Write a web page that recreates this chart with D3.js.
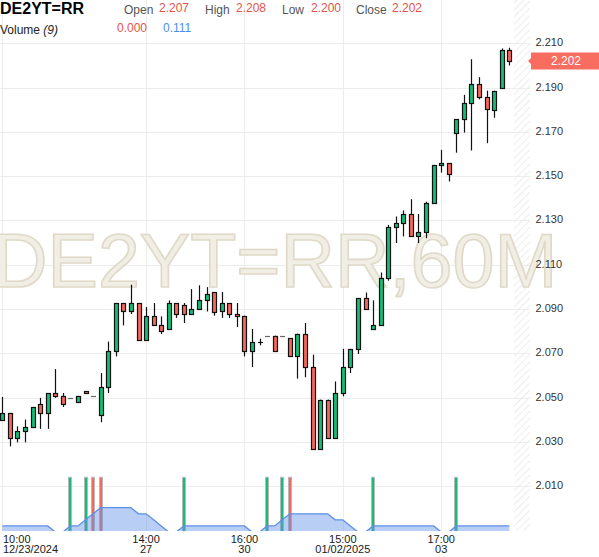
<!DOCTYPE html>
<html>
<head>
<meta charset="utf-8">
<script src="https://cdn.jsdelivr.net/npm/d3@7"></script>
<style>
  html, body { margin: 0; padding: 0; background: #fff; }
  svg { display: block; font-family: "Liberation Sans", Arial, sans-serif; }
</style>
</head>
<body>
<svg id="chart" width="599" height="557"></svg>
<script>
// ---------- data ----------
const openVals  = [2.0401,2.0431,2.0318,2.0348,2.0369,2.0472,2.0431,2.0521,2.0506,2.0499,
                   2.0481,2.0530,2.0508,2.0422,2.0548,2.0712,2.0927,2.0889,2.0927,2.0760,
                   2.0870,2.0828,2.0810,2.0927,2.0919,2.0878,2.0900,2.0941,2.0977,2.0889,
                   2.0927,2.0879,2.0870,2.0710,2.0751,2.0780,2.0780,2.0780,2.0769,2.0686,
                   2.0789,2.0637,2.0268,2.0491,2.0318,2.0521,2.0638,2.0720,2.0950,2.0810,
                   2.0829,2.1040,2.1270,2.1288,2.1329,2.1231,2.1247,2.1378,2.1550,2.1559,
                   2.1697,2.1757,2.1829,2.1915,2.1856,2.1798,2.1897,2.2070];
const highVals  = [2.0503,2.0431,2.0370,2.0401,2.0458,2.0499,2.0521,2.0629,2.0521,2.0499,
                   2.0508,2.0530,2.0508,2.0611,2.0753,2.0927,2.0927,2.1010,2.0927,2.0909,
                   2.0927,2.0867,2.0939,2.0927,2.0927,2.0990,2.1007,2.0999,2.0977,2.0977,
                   2.0927,2.0927,2.0870,2.0810,2.0766,2.0780,2.0780,2.0780,2.0769,2.0789,
                   2.0837,2.0694,2.0491,2.0491,2.0573,2.0720,2.0720,2.0950,2.0975,2.0939,
                   2.1065,2.1280,2.1318,2.1345,2.1396,2.1329,2.1385,2.1551,2.1619,2.1559,
                   2.1757,2.1867,2.2028,2.1947,2.1886,2.1886,2.2077,2.2080];
const lowVals   = [2.0401,2.0280,2.0298,2.0298,2.0369,2.0359,2.0359,2.0499,2.0458,2.0499,
                   2.0481,2.0521,2.0508,2.0389,2.0521,2.0686,2.0826,2.0878,2.0760,2.0760,
                   2.0828,2.0787,2.0810,2.0860,2.0837,2.0878,2.0900,2.0889,2.0870,2.0860,
                   2.0860,2.0819,2.0686,2.0638,2.0736,2.0780,2.0709,2.0780,2.0686,2.0586,
                   2.0592,2.0268,2.0268,2.0318,2.0318,2.0506,2.0611,2.0697,2.0900,2.0805,
                   2.0829,2.1028,2.1198,2.1228,2.1231,2.1198,2.1220,2.1378,2.1516,2.1476,
                   2.1606,2.1697,2.1616,2.1847,2.1649,2.1764,2.1897,2.2000];
const closeVals = [2.0431,2.0318,2.0348,2.0369,2.0458,2.0431,2.0521,2.0509,2.0472,2.0499,
                   2.0508,2.0521,2.0508,2.0548,2.0712,2.0927,2.0889,2.0927,2.0760,2.0870,
                   2.0828,2.0801,2.0927,2.0878,2.0878,2.0900,2.0941,2.0968,2.0888,2.0927,
                   2.0878,2.0870,2.0710,2.0751,2.0751,2.0780,2.0709,2.0780,2.0686,2.0789,
                   2.0637,2.0268,2.0491,2.0318,2.0521,2.0638,2.0720,2.0950,2.0900,2.0829,
                   2.1040,2.1270,2.1288,2.1329,2.1231,2.1247,2.1378,2.1551,2.1559,2.1509,
                   2.1757,2.1829,2.1915,2.1856,2.1805,2.1886,2.2068,2.2020];
// volume per bar (1 where a bar is drawn) and its colour direction
const volumeVals = [0,0,0,0,0,0,0,0,0,1, 0,1,1,1,0,0,0,0,0,0, 0,0,0,0,1,0,0,0,0,0,
                    0,0,0,0,0,1,0,1,1,0, 0,0,0,0,0,0,0,0,0,1, 0,0,0,0,0,0,0,0,0,0,
                    1,0,0,0,0,0,0,0];
const volumeDir  = ["","","","","","","","","","up", "","up","down","down","","","","","","",
                    "","","","","up","","","","","", "","","","","","up","","up","down","",
                    "","","","","","","","","","up", "","","","","","","","","","",
                    "up","","","","","","",""];
// Volume (9) moving-average values as drawn
const volumeMA = [0.111,0.111,0.111,0.111,0.111,0.111,0.111,0,0,0.111,
                  0.111,0.222,0.333,0.444,0.444,0.444,0.444,0.444,0.333,0.333,
                  0.222,0.111,0,0,0.111,0.111,0.111,0.111,0.111,0.111,
                  0.111,0.111,0.111,0,0,0.111,0.111,0.222,0.333,0.333,
                  0.333,0.333,0.333,0.333,0.222,0.222,0.111,0,0,0.111,
                  0.111,0.111,0.111,0.111,0.111,0.111,0.111,0.111,0,0,
                  0.111,0.111,0.111,0.111,0.111,0.111,0.111,0.111];

const yTicks = [2.010,2.030,2.050,2.070,2.090,2.110,2.130,2.150,2.170,2.190,2.210];
const xTickIndex = [0,19,32,45,58];
const xTickTime  = ["10:00","14:00","16:00","15:00","17:00"];
const xTickDate  = ["12/23/2024","27","30","01/02/2025","03"];

const symbol = "DE2YT=RR";
const watermark = "DE2YT=RR,60M";
const headerLabels = ["Open","High","Low","Close"];
const headerValues = ["2.207","2.208","2.200","2.202"];
const volLabel = "Volume";
const volPeriod = "(9)";
const volValues = ["0.000","0.111"];
const lastPrice = 2.202;

// ---------- layout ----------
const W = 599, H = 557;
const plotRight = 514, hatchRight = 530, plotBottom = 531;
const GREEN = "#13bf78", RED = "#f6675c";

const svg = d3.select("#chart");
const n = closeVals.length;
const x = d3.scaleLinear().domain([0, n - 1]).range([2.3, 509.3]);
const y = d3.scaleLinear().domain([2.010, 2.210]).range([486.2, 43.3]);
const yv = d3.scaleLinear().domain([0, 1]).range([532, 477.3]);
const px = v => Math.round(v) + 0.5;

const defs = svg.append("defs");
const pat = defs.append("pattern").attr("id","hatch").attr("width",5).attr("height",5)
  .attr("patternUnits","userSpaceOnUse").attr("patternTransform","rotate(45)");
pat.append("line").attr("x1",0).attr("y1",0).attr("x2",0).attr("y2",5)
  .attr("stroke","#e4e4e4").attr("stroke-width",1.3);
defs.append("clipPath").attr("id","plotClip").append("rect")
  .attr("x",0).attr("y",0).attr("width",plotRight).attr("height",plotBottom);

// hatch region
svg.append("rect").attr("x",plotRight).attr("y",0).attr("width",hatchRight-plotRight)
  .attr("height",plotBottom).attr("fill","url(#hatch)");

// grid
svg.append("g").selectAll("line").data(yTicks).join("line")
  .attr("x1",0).attr("x2",hatchRight).attr("y1",d=>px(y(d))).attr("y2",d=>px(y(d)))
  .attr("stroke","#ececec").attr("stroke-width",1);
svg.append("g").selectAll("line").data(xTickIndex).join("line")
  .attr("x1",d=>px(x(d))).attr("x2",d=>px(x(d))).attr("y1",0).attr("y2",plotBottom)
  .attr("stroke","#ececec").attr("stroke-width",1);

// watermark
svg.append("text").attr("x",-7).attr("y",287).text(watermark)
  .attr("font-size",75.5).attr("fill","#f1eee5").attr("stroke","#e0d9c7").attr("stroke-width",1.6)
  .attr("font-family","'Liberation Sans', Arial, sans-serif");

const plot = svg.append("g").attr("clip-path","url(#plotClip)");

// volume bars
const volIdx = d3.range(n).filter(i => volumeVals[i] > 0);
plot.append("g").selectAll("rect").data(volIdx).join("rect")
  .attr("x", i => Math.round(x(i)) - 1.5).attr("width", 3)
  .attr("y", i => yv(volumeVals[i])).attr("height", i => yv(0) - yv(volumeVals[i]))
  .attr("fill", i => volumeDir[i] === "up" ? GREEN : RED)
  .attr("stroke","#b9b9b9").attr("stroke-width",1);

// volume MA area
const area = d3.area().x((d,i)=>x(i)).y0(yv(0)+2).y1(d=>yv(d));
const line = d3.line().x((d,i)=>x(i)).y(d=>yv(d));
plot.append("path").datum(volumeMA).attr("d",area).attr("fill","rgba(98,146,232,0.45)");
plot.append("path").datum(volumeMA).attr("d",line).attr("fill","none")
  .attr("stroke","#5d8fe8").attr("stroke-width",1.3);

// candles
const cg = plot.append("g");
d3.range(n).forEach(i => {
  const o = openVals[i], h = highVals[i], l = lowVals[i], c = closeVals[i];
  const cx = px(x(i));
  const g = cg.append("g");
  if (h > l) {
    g.append("line").attr("x1",cx).attr("x2",cx).attr("y1",y(h)).attr("y2",y(l))
      .attr("stroke","#111").attr("stroke-width",1.2);
  }
  const yTop = y(Math.max(o,c)), yBot = y(Math.min(o,c));
  if (yBot - yTop < 1) {
    const yy = px(y(c));
    g.append("line").attr("x1",cx-2.5).attr("x2",cx+2.5).attr("y1",yy).attr("y2",yy)
      .attr("stroke", h > l ? "#111" : "#666").attr("stroke-width",1.2);
  } else {
    g.append("rect").attr("x",cx-2).attr("width",4)
      .attr("y",Math.round(yTop)+0.5).attr("height",Math.max(1,Math.round(yBot)-Math.round(yTop)))
      .attr("fill", c >= o ? GREEN : RED).attr("stroke","#111").attr("stroke-width",1.2);
  }
});

// y-axis labels
svg.append("g").selectAll("text").data(yTicks).join("text")
  .attr("x",535.5).attr("y",d=>y(d)+3).text(d=>d3.format(".3f")(d))
  .attr("font-size",11).attr("fill","#333");

// x-axis labels
const xl = svg.append("g");
xTickIndex.forEach((ti,k) => {
  const first = k === 0;
  const tx = first ? 3 : x(ti);
  const anchor = first ? "start" : "middle";
  xl.append("text").attr("x",tx).attr("y",543).attr("text-anchor",anchor)
    .attr("font-size",11).attr("fill","#1a1a1a").text(xTickTime[k]);
  xl.append("text").attr("x",tx).attr("y",553).attr("text-anchor",anchor)
    .attr("font-size",11).attr("fill","#1a1a1a").text(xTickDate[k]);
});

// last price label
const ly = y(lastPrice);
svg.append("path")
  .attr("d", `M528,${ly} L531,${ly-3} L531,${ly-8.5} L599,${ly-8.5} L599,${ly+8.5} L531,${ly+8.5} L531,${ly+3} Z`)
  .attr("fill","#f96c60");
svg.append("text").attr("x",566).attr("y",ly+4.3).attr("text-anchor","middle")
  .attr("font-size",12).attr("fill","#fff").text(d3.format(".3f")(lastPrice));

// header
const hd = svg.append("g");
hd.append("text").attr("x",0).attr("y",14).attr("font-size",16).attr("font-weight","bold")
  .attr("fill","#000").text(symbol);
const labelX = [124,205,282,356], valueX = [159,236,311,392];
headerLabels.forEach((t,k) => {
  hd.append("text").attr("x",labelX[k]).attr("y",14).attr("font-size",12).attr("fill","#555").text(t);
  hd.append("text").attr("x",valueX[k]).attr("y",11.5).attr("font-size",12).attr("fill","#e5534b").text(headerValues[k]);
});
const vt = hd.append("text").attr("x",0).attr("y",34).attr("font-size",12).attr("fill","#222");
vt.append("tspan").text(volLabel + " ");
vt.append("tspan").attr("font-style","italic").text(volPeriod);
hd.append("text").attr("x",117).attr("y",31.5).attr("font-size",12).attr("fill","#e5534b").text(volValues[0]);
hd.append("text").attr("x",163).attr("y",31.5).attr("font-size",12).attr("fill","#4a8fe7").text(volValues[1]);
</script>
</body>
</html>
